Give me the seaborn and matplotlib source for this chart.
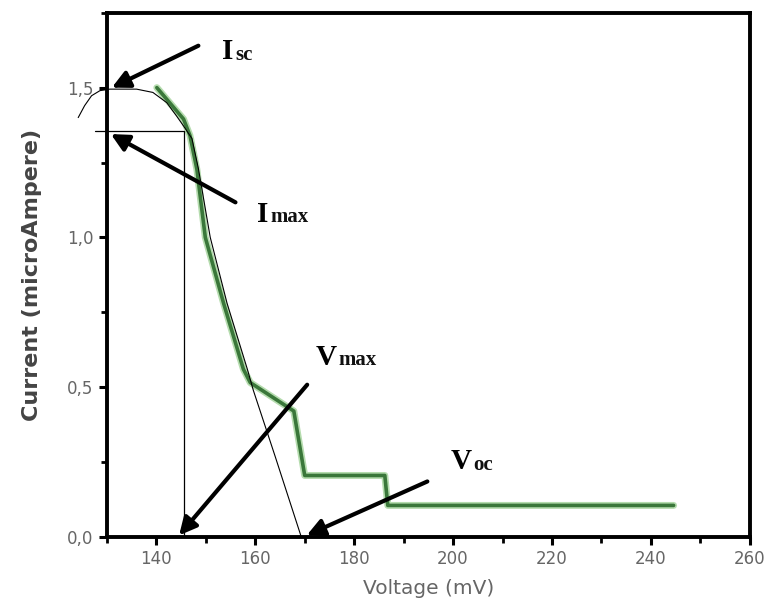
import pandas as pd
import matplotlib
matplotlib.use("Agg")
import matplotlib.pyplot as plt
import seaborn as sns
from matplotlib.ticker import MultipleLocator, FuncFormatter

# measured I-V curve (green)
volt = [140.1, 145.5, 146.8, 148.2, 149.9, 153.6, 157.6, 159.0, 167.8, 170.0, 186.2, 186.8, 244.6]
curr = [1.50, 1.395, 1.34, 1.227, 1.00, 0.78, 0.56, 0.515, 0.42, 0.205, 0.205, 0.105, 0.105]

# hand-drawn fitted curve (thin black)
fit_volt = [124.2, 125.5, 126.9, 128.6, 130.6, 136.0, 139.3, 142.1, 144.1, 145.5,
            147.2, 148.5, 150.9, 154.3, 158.4, 159.6, 164.0, 169.3]
fit_curr = [1.40, 1.44, 1.473, 1.49, 1.495, 1.495, 1.484, 1.45, 1.405, 1.372,
            1.33, 1.23, 1.00, 0.78, 0.56, 0.49, 0.27, 0.0]

# max power point guide lines
v_max = 145.6
i_max = 1.356
guide_left = 127.6

# annotations: letter, subscript, label position, arrow tail, arrow head
letters = ['I', 'I', 'V', 'V']
subs = ['sc', 'max', 'max', 'oc']
label_pos = [(153.3, 1.62), (160.4, 1.077), (172.2, 0.60), (199.6, 0.25)]
arrow_tail = [(148.5, 1.64), (156.0, 1.117), (170.5, 0.508), (194.8, 0.185)]
arrow_head = [(131.0, 1.50), (130.8, 1.345), (144.6, 0.005), (170.4, 0.005)]

sns.set_style("ticks")

fig = plt.figure(figsize=(7.69, 6.08), dpi=100)
ax = fig.add_axes([0.139, 0.117, 0.836, 0.862])

df = pd.DataFrame({'volt': volt, 'curr': curr})
fit = pd.DataFrame({'volt': fit_volt, 'curr': fit_curr})

sns.lineplot(data=df, x='volt', y='curr', sort=False, color='#b5dcae', lw=5, ax=ax)
sns.lineplot(data=df, x='volt', y='curr', sort=False, color='#3a773a', lw=2.6, ax=ax)
sns.lineplot(data=fit, x='volt', y='curr', sort=False, color='black', lw=0.8, ax=ax)
ax.lines[-1].set_clip_on(False)

h = ax.plot([guide_left, v_max], [i_max, i_max], color='black', lw=0.9)[0]
h.set_clip_on(False)
ax.plot([v_max, v_max], [0, i_max], color='black', lw=0.9)

for let, sub, lp, tail, head in zip(letters, subs, label_pos, arrow_tail, arrow_head):
    ax.annotate('', xy=head, xytext=tail,
                arrowprops=dict(arrowstyle='-|>', color='black', lw=3,
                                mutation_scale=26, shrinkA=0, shrinkB=0),
                annotation_clip=False)
    t = ax.text(lp[0], lp[1], let, fontsize=21, fontweight='bold',
                family='Liberation Serif', color='black', va='center', ha='left')
    ax.annotate(sub, xy=(1.0, 0.12), xycoords=t, xytext=(1, -2), textcoords='offset points',
                fontsize=15, fontweight='bold', family='Liberation Serif',
                color='#111111', va='bottom', ha='left')

ax.set_xlim(130, 260)
ax.set_ylim(0, 1.75)
ax.xaxis.set_major_locator(MultipleLocator(20))
ax.xaxis.set_minor_locator(MultipleLocator(10))
ax.yaxis.set_major_locator(MultipleLocator(0.5))
ax.yaxis.set_minor_locator(MultipleLocator(0.25))
ax.xaxis.set_major_formatter(FuncFormatter(lambda v, p: '' if v < 140 else f'{v:.0f}'))
ax.yaxis.set_major_formatter(FuncFormatter(lambda v, p: f'{v:.1f}'.replace('.', ',')))

for s in ax.spines.values():
    s.set_linewidth(2.8)
    s.set_color('black')
ax.tick_params(which='major', length=6, width=2.2, labelsize=12, labelcolor='#666666', color='black')
ax.tick_params(which='minor', length=4, width=2, color='black')

ax.set_xlabel('Voltage (mV)', fontsize=14.5, color='#666666', labelpad=8)
ax.set_ylabel('Current (microAmpere)', fontsize=16, fontweight='bold', color='#444444', labelpad=18)

fig.savefig('out.png', dpi=100)
